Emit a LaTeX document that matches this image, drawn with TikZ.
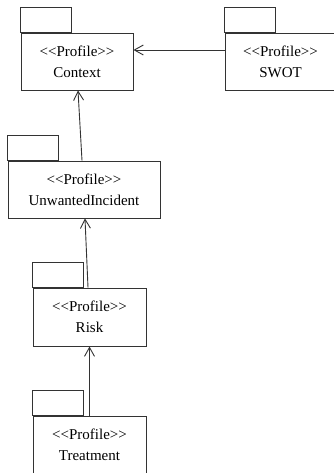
\documentclass[tikz,border=0pt]{standalone}
\usepackage{fontspec}
\setmainfont{Liberation Serif}[Ligatures=TeXOff]
\definecolor{mLine}{HTML}{333333}
\usepackage{tikz}
\usetikzlibrary{positioning,arrows.meta,calc}

\begin{document}
\begin{tikzpicture}[x=1pt, y=-1pt, font=\fontsize{15}{21}\selectfont,
  profile/.style={draw=mLine, line width=0.9pt, rectangle, align=center, minimum height=57pt, inner sep=0pt},
  tab/.style={draw=mLine, line width=0.9pt},
  gen/.style={-{Straight Barb[length=9pt, width=10pt]}, draw=mLine, line width=0.9pt}]
\useasboundingbox (0,0) rectangle (334,473);
\node[profile, minimum width=112pt] (context) at (77,61.5) {<<Profile>>\\Context};
\node[profile, minimum width=111pt] (swot) at (280.5,61.5) {<<Profile>>\\SWOT};
\node[profile, minimum width=152pt] (incident) at (84,189.5) {<<Profile>>\\UnwantedIncident};
\node[profile, minimum width=113pt, minimum height=58pt] (risk) at (89.5,317) {<<Profile>>\\Risk};
\node[profile, minimum width=113pt] (treatment) at (89.5,444.5) {<<Profile>>\\Treatment};
% package tabs
\foreach \n in {context,swot,incident,risk,treatment}{
  \draw[tab] (\n.north west) rectangle ++(51,-25);
  \draw[tab, line width=1.8pt] (\n.north west) -- ++(51,0);
}
% generalisations
\draw[gen] ([yshift=11.5pt]swot.west) -- ([yshift=11.5pt]context.east);
\draw[gen] ([xshift=-2pt]incident.north) -- ([xshift=1pt]context.south);
\draw[gen] ([xshift=-1.5pt]risk.north) -- ([xshift=1pt]incident.south);
\draw[gen] (treatment.north) -- (risk.south);
\end{tikzpicture}
\end{document}
